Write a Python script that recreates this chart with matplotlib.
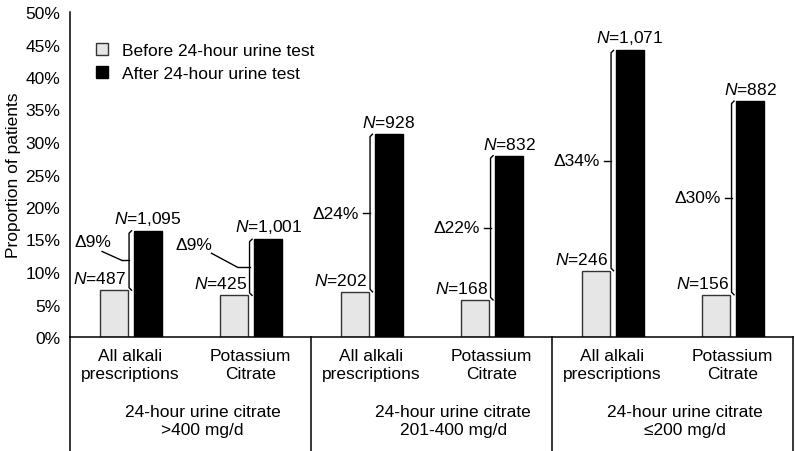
import matplotlib
matplotlib.use('Agg')
import matplotlib.pyplot as plt
import matplotlib.transforms as mtransforms

# Data
categories = ["All alkali\nprescriptions", "Potassium\nCitrate"] * 3
groups = ["24-hour urine citrate\n>400 mg/d",
          "24-hour urine citrate\n201-400 mg/d",
          "24-hour urine citrate\n\u2264200 mg/d"]
before = [7.2, 6.4, 6.95, 5.7, 10.2, 6.5]
after = [16.35, 15.05, 31.2, 27.9, 44.1, 36.3]
n_before = [487, 425, 202, 168, 246, 156]
n_after = [1095, 1001, 928, 832, 1071, 882]
delta = [9, 9, 24, 22, 34, 30]
series = ["Before 24-hour urine test", "After 24-hour urine test"]

# Matplotlib configuration
plt.rcParams['font.family'] = ['Liberation Sans', 'DejaVu Sans']
plt.rcParams['font.size'] = 12.5
plt.rcParams['mathtext.fontset'] = 'custom'
plt.rcParams['mathtext.rm'] = 'Liberation Sans'
plt.rcParams['mathtext.it'] = 'Liberation Sans:italic'

W, H = 795, 452
fig = plt.figure(figsize=(W / 100, H / 100), dpi=100)
ax = fig.add_axes([70 / W, 114 / H, 723 / W, 325 / H])
ax.set_xlim(0, 6)
ax.set_ylim(0, 50)

px = 6 / 723.0   # one pixel in x data units
py = 50 / 325.0  # one pixel in y data units

centers = [i + 0.5 for i in range(len(categories))]
xb = [c - 0.137 for c in centers]
xa = [c + 0.145 for c in centers]
ax.bar(xb, before, width=0.235, color='#e6e6e6', edgecolor='#333333',
       linewidth=1, label=series[0], zorder=2)
ax.bar(xa, after, width=0.235, color='black', edgecolor='black',
       linewidth=1, label=series[1], zorder=2)

# brackets, deltas and N labels
dlab_off = [(-18, 19, -27, 9, -7), (-37, 23, -38, 14, -12)]
for i, c in enumerate(centers):
    bx = c - 0.01
    lo, hi = before[i], after[i]
    mid = (lo + hi) / 2
    ax.plot([bx + 2.5 * px, bx, bx, bx + 2.5 * px],
            [hi, hi - 2.5 * py, lo + 2.5 * py, lo],
            color='black', lw=1, zorder=3)
    ax.text(bx - 3 * px, lo + 4 * py, '$N$=%d' % n_before[i],
            ha='right', va='bottom')
    ax.text(xa[i], hi + 4 * py, '$N$=' + format(n_after[i], ','),
            ha='center', va='bottom')
    dtxt = '\u0394%d%%' % delta[i]
    if i < 2:
        tx, ty, lx, ly, tk = dlab_off[i]
        ax.plot([bx + tk * px, bx], [mid, mid], color='black', lw=1)
        ax.plot([bx + lx * px, bx + tk * px], [mid + ly * py, mid],
                color='black', lw=1)
        ax.text(bx + tx * px, mid + ty * py, dtxt, ha='right', va='center')
    else:
        ax.plot([bx - 7 * px, bx], [mid, mid], color='black', lw=1)
        ax.text(bx - 11 * px, mid, dtxt, ha='right', va='center')

# axes styling
for s in ['top', 'right']:
    ax.spines[s].set_visible(False)
for s in ['left', 'bottom']:
    ax.spines[s].set_linewidth(1.1)
ax.set_yticks(range(0, 51, 5))
ax.set_yticklabels(['%d%%' % v for v in range(0, 51, 5)])
ax.tick_params(axis='y', length=0, pad=7)
ax.set_xticks([])
ax.set_ylabel('Proportion of patients', labelpad=3)

# category box below the axis
trans = mtransforms.blended_transform_factory(ax.transData, ax.transAxes)
for xv in [0, 2, 4, 6]:
    ax.plot([xv, xv], [0, -0.36], color='black', lw=1.1,
            transform=trans, clip_on=False)
for i, c in enumerate(centers):
    ax.text(c, -0.085, categories[i], ha='center', va='center',
            transform=trans, linespacing=1.25)
group_x = [1.1, 3.18, 5.1]
for j, g in enumerate(groups):
    ax.text(group_x[j], -0.258, g, ha='center', va='center',
            transform=trans, linespacing=1.25)

ax.legend(loc='upper left', bbox_to_anchor=(0.027, 0.925), frameon=False,
          handlelength=0.65, handleheight=0.65, handletextpad=0.8,
          labelspacing=0.45, borderaxespad=0)

fig.savefig('out.png', dpi=100)
